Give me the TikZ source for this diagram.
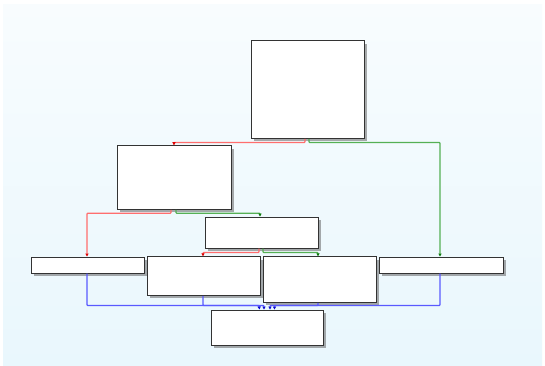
\documentclass[tikz,border=0pt]{standalone}
\usetikzlibrary{arrows.meta,shadows,calc}
\definecolor{bgtop}{HTML}{F8FCFE}
\definecolor{bgbot}{HTML}{E9F7FD}
\definecolor{redl}{HTML}{FF6E6E}
\definecolor{redd}{HTML}{E00000}
\definecolor{grnl}{HTML}{55B055}
\definecolor{grnd}{HTML}{0A7A0A}
\definecolor{blul}{HTML}{5A5AFF}
\definecolor{blud}{HTML}{0A0AD0}
\tikzset{
  box/.style={draw=black!80, line width=1pt, fill=white, inner sep=0pt, rectangle,
    drop shadow={shadow xshift=2.8pt, shadow yshift=-2.8pt, fill=black!60, opacity=0.55}},
  edg/.style={line width=1.2pt, rounded corners=0.8pt},
  redge/.style={edg, draw=redl, -{Triangle[length=3pt,width=3.2pt,color=redd]}},
  gedge/.style={edg, draw=grnl, -{Triangle[length=3pt,width=3.2pt,color=grnd]}},
  bedge/.style={edg, draw=blul, -{Triangle[length=3pt,width=3.2pt,color=blud]}},
}
\begin{document}
\begin{tikzpicture}[x=1pt,y=-1pt]
\useasboundingbox (0,0) rectangle (545,366);
\fill[white] (0,0) rectangle (545,366);
\shade[top color=bgtop, bottom color=bgbot] (3,5) rectangle (542,365);

\node[box, minimum width=113.5, minimum height=97.5] (A) at (307.75,89.75) {};
\node[box, minimum width=113.5, minimum height=63.5] (B) at (174.25,177.5) {};
\node[box, minimum width=113, minimum height=31] (C) at (261.5,232.5) {};
\node[box, minimum width=113, minimum height=16] (D) at (87.5,265) {};
\node[box, minimum width=113, minimum height=38.5] (E) at (203.5,276) {};
\node[box, minimum width=113, minimum height=45.5] (F) at (319.5,279.5) {};
\node[box, minimum width=124, minimum height=16] (G) at (441,265) {};
\node[box, minimum width=112, minimum height=35.5] (H) at (267,327.75) {};

\draw[redge] (A.south -| 305,0) -- ++(0,3.5) -| (B.north -| 174,0);
\draw[gedge] (A.south -| 309,0) -- ++(0,3.5) -| (G.north -| 440,0);
\draw[redge] (B.south -| 171,0) -- ++(0,3.5) -| (D.north -| 87,0);
\draw[gedge] (B.south -| 176,0) -- ++(0,3.5) -| (C.north -| 260,0);
\draw[redge] (C.south -| 259,0) -- ++(0,4) -| (E.north -| 203,0);
\draw[gedge] (C.south -| 263,0) -- ++(0,4) -| (F.north -| 318,0);
\draw[bedge] (D.south -| 87,0) |- (259,305.5) -- (H.north -| 259.5,0);
\draw[bedge] (E.south -| 203,0) |- (264,305.5) -- (H.north -| 264,0);
\draw[bedge] (F.south -| 318,0) |- (270,305.5) -- (H.north -| 270,0);
\draw[bedge] (G.south -| 440,0) |- (274.5,305.5) -- (H.north -| 274.5,0);
\end{tikzpicture}
\end{document}
